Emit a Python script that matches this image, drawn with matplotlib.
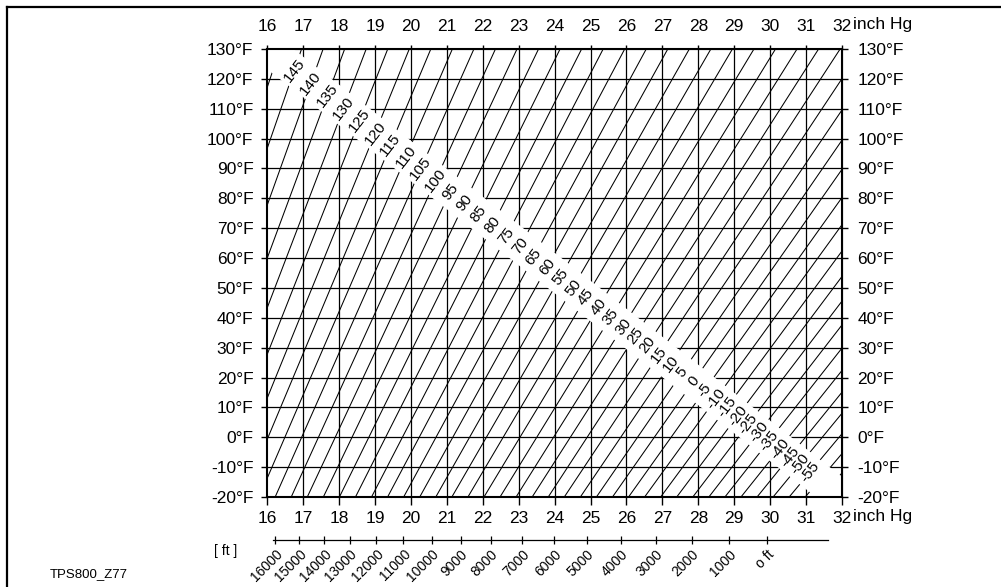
import numpy as np
import matplotlib.pyplot as plt
from matplotlib.lines import Line2D

plt.rcParams['font.family'] = ['Liberation Sans', 'DejaVu Sans']

# axis values
inch_hg = [16, 17, 18, 19, 20, 21, 22, 23, 24, 25, 26, 27, 28, 29, 30, 31, 32]
temp_f = [-20, -10, 0, 10, 20, 30, 40, 50, 60, 70, 80, 90, 100, 110, 120, 130]

# atmospheric correction lines (ppm) and the ones that carry a label
ppm_lines = [150, 145, 140, 135, 130, 125, 120, 115, 110, 105, 100, 95, 90, 85, 80,
             75, 70, 65, 60, 55, 50, 45, 40, 35, 30, 25, 20, 15, 10, 5, 0,
             -5, -10, -15, -20, -25, -30, -35, -40, -45, -50, -55, -60, -65, -70]
ppm_labels = [145, 140, 135, 130, 125, 120, 115, 110, 105, 100, 95, 90, 85, 80,
              75, 70, 65, 60, 55, 50, 45, 40, 35, 30, 25, 20, 15, 10, 5, 0,
              -5, -10, -15, -20, -25, -30, -35, -40, -45, -50, -55]

# height scale below the chart (pressure in inch Hg for each height)
ft_labels = ["16000", "15000", "14000", "13000", "12000", "11000", "10000", "9000",
             "8000", "7000", "6000", "5000", "4000", "3000", "2000", "1000", "o ft"]
ft_inhg = [16.22, 16.89, 17.58, 18.29, 19.03, 19.79, 20.58, 21.39,
           22.22, 23.09, 23.98, 24.90, 25.84, 26.82, 27.82, 28.86, 29.92]

# ppm = 286.34 - 0.29525 * p[mbar] / (1 + t[C]/273.15)
A_PPM = 286.34
B_PPM = 0.29525
MBAR_PER_INHG = 33.8639


def line_coeffs(ppm):
    # temperature in F as a + b * p (inch Hg) along one ppm line
    b = 1.8 * 273.15 * B_PPM * MBAR_PER_INHG / (A_PPM - ppm)
    a = 32 - 1.8 * 273.15
    return a, b


W, H = 1001, 587
fig = plt.figure(figsize=(W / 100, H / 100), dpi=100)
L, R, T, B = 267.3, 842.0, 49.0, 497.0
ax = fig.add_axes([L / W, 1 - B / H, (R - L) / W, (B - T) / H])
x0, x1 = inch_hg[0], inch_hg[-1]
y0, y1 = temp_f[0], temp_f[-1]
ax.set_xlim(x0, x1)
ax.set_ylim(y0, y1)

# slanted ppm lines
for n in ppm_lines:
    a, b = line_coeffs(n)
    px = np.array([x0, x1])
    ax.plot(px, a + b * px, color='black', lw=0.75, zorder=1)

# grid
ax.vlines(inch_hg[1:-1], y0, y1, color='black', lw=0.9, zorder=2)
ax.hlines(temp_f[1:-1], x0, x1, color='black', lw=0.9, zorder=2)

# white band for the labels along the diagonal
ax.plot([0, 1], [1, 0], transform=ax.transAxes, color='white', lw=23,
        solid_capstyle='butt', zorder=3)

ang = np.degrees(np.arctan2(-(B - T), (R - L)))
for n in ppm_labels:
    a, b = line_coeffs(n)
    # where the line meets the diagonal (x-x0)/dx + (y-y0)/dy = 1
    dx, dy = x1 - x0, y1 - y0
    p = (1 + x0 / dx - (a - y0) / dy) / (1 / dx + b / dy)
    ax.text(p, a + b * p, str(n), rotation=90 + ang, rotation_mode='anchor',
            ha='center', va='center', fontsize=11, zorder=4)

for s in ax.spines.values():
    s.set_linewidth(1.5)
    s.set_zorder(5)

ax.set_xticks(inch_hg)
ax.set_yticks(temp_f)
ax.set_yticklabels([f"{v}°F" for v in temp_f])
ax.tick_params(axis='x', direction='out', length=6, width=1, pad=4, labelsize=12.5)
ax.tick_params(axis='y', direction='out', length=4, width=1, pad=6, labelsize=12.5)

secx = ax.secondary_xaxis('top')
secx.set_xticks(inch_hg)
secx.tick_params(direction='out', length=3, width=1, pad=8, labelsize=12.5)
secy = ax.secondary_yaxis('right')
secy.set_yticks(temp_f)
secy.set_yticklabels([f"{v}°F" for v in temp_f])
secy.tick_params(direction='out', length=4, width=1, pad=7, labelsize=12.5)

fig.text(853 / W, 1 - 25 / H, "inch Hg", ha='left', va='center', fontsize=12.5)
fig.text(853 / W, 1 - 517 / H, "inch Hg", ha='left', va='center', fontsize=12.5)

# height scale
axf = fig.add_axes([L / W, 1 - 540 / H, (R - L) / W, 0.001])
axf.set_xlim(x0, x1)
axf.patch.set_visible(False)
for k in ['top', 'left', 'right']:
    axf.spines[k].set_visible(False)
axf.spines['bottom'].set_bounds(16.15, 31.6)
axf.spines['bottom'].set_linewidth(0.9)
axf.set_yticks([])
axf.set_xticks(ft_inhg)
axf.set_xticklabels(ft_labels, rotation=45, ha='right', rotation_mode='anchor')
axf.tick_params(axis='x', direction='inout', length=6, width=0.9, pad=2, labelsize=10)

fig.text(226 / W, 1 - 551 / H, "[ ft ]", ha='center', va='center', fontsize=10)
fig.text(89 / W, 1 - 574 / H, "TPS800_Z77", ha='center', va='center', fontsize=9.5)

# outer frame (top and left)
fig.add_artist(Line2D([6.5 / W, 1], [1 - 6.5 / H, 1 - 6.5 / H], color='black', lw=1.6))
fig.add_artist(Line2D([6.5 / W, 6.5 / W], [0, 1 - 6.5 / H], color='black', lw=1.6))

fig.savefig('out.png', dpi=100)
